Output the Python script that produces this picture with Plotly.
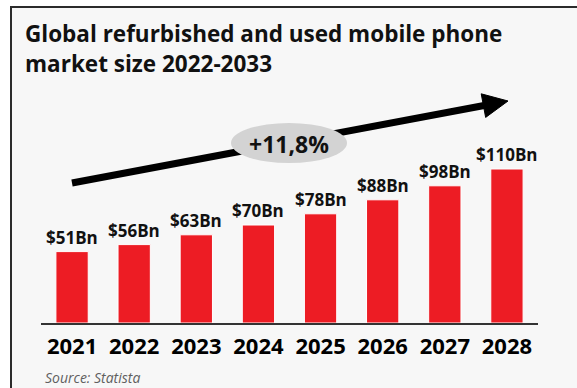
import math
import plotly.graph_objects as go

# ---- data -------------------------------------------------------------
years = ["2021", "2022", "2023", "2024", "2025", "2026", "2027", "2028"]
market_size_bn = [51, 56, 63, 70, 78, 88, 98, 110]
value_labels = [f"${v}Bn" for v in market_size_bn]
growth_label = "+11,8%"
title_lines = ["Global refurbished and used mobile phone", "market size 2022-2033"]
source_note = "Source: Statista"

# ---- canvas geometry (pixels) ------------------------------------------
W, H = 577, 388
L, R, T, B = 41, 39, 141, 65
plot_w = W - L - R
plot_h = H - T - B


def px(x):
    """pixel x -> paper x"""
    return (x - L) / plot_w


def py(y):
    """pixel y (from top) -> paper y"""
    return (H - B - y) / plot_h


FONT = "Open Sans"
RED = "#ed1c24"

fig = go.Figure()
fig.add_trace(
    go.Bar(
        x=years,
        y=market_size_bn,
        marker=dict(color=RED, line=dict(color="#ffffff", width=1)),
        hoverinfo="skip",
    )
)

# value labels above each bar (x given as category index)
for i, (v, lab) in enumerate(zip(market_size_bn, value_labels)):
    fig.add_annotation(
        x=i, y=v, xref="x", yref="y", text=lab, showarrow=False,
        yanchor="bottom", yshift=1,
        font=dict(family=FONT, size=17, color="#111111", weight="bold"),
    )

shapes = []
# framed background panel
shapes.append(dict(
    type="rect", xref="paper", yref="paper", layer="below",
    x0=px(11), x1=px(600), y0=py(420), y1=py(7),
    line=dict(color="#2b2b2b", width=2), fillcolor="#f7f7f7",
))

# growth arrow: shaft + head
tip = (508, 101)
start = (72, 183)
dx, dy = tip[0] - start[0], tip[1] - start[1]
n = math.hypot(dx, dy)
ux, uy = dx / n, dy / n
nx, ny = -uy, ux
head_len, head_half = 25, 12
bx, by = tip[0] - head_len * ux, tip[1] - head_len * uy
shapes.append(dict(
    type="line", xref="paper", yref="paper",
    x0=px(start[0]), y0=py(start[1]), x1=px(bx + 2 * ux), y1=py(by + 2 * uy),
    line=dict(color="#000000", width=7),
))
p1 = (bx + head_half * nx, by + head_half * ny)
p2 = (bx - head_half * nx, by - head_half * ny)
shapes.append(dict(
    type="path", xref="paper", yref="paper",
    path=f"M {px(tip[0])},{py(tip[1])} L {px(p1[0])},{py(p1[1])} L {px(p2[0])},{py(p2[1])} Z",
    fillcolor="#000000", line=dict(color="#000000", width=1),
))

# grey badge behind the growth rate
shapes.append(dict(
    type="circle", xref="paper", yref="paper",
    x0=px(231), x1=px(347), y0=py(163), y1=py(123),
    fillcolor="#d3d3d3", line=dict(width=0),
))

fig.add_annotation(
    xref="paper", yref="paper", x=px(289), y=py(144), text=growth_label,
    showarrow=False, xanchor="center", yanchor="middle",
    font=dict(family=FONT, size=23, color="#111111", weight="bold"),
)

# two-line heading
for i, line in enumerate(title_lines):
    fig.add_annotation(
        xref="paper", yref="paper", x=px(23), y=py(33 + 30 * i), text=line,
        showarrow=False, xanchor="left", yanchor="middle",
        font=dict(family=FONT, size=22.5, color="#111111", weight="bold"),
    )

fig.add_annotation(
    xref="paper", yref="paper", x=px(43), y=py(377), text=source_note,
    showarrow=False, xanchor="left", yanchor="middle",
    font=dict(family=FONT, size=14, color="#5f5f5f", style="italic"),
)

fig.update_layout(
    width=W, height=H,
    margin=dict(l=L, r=R, t=T, b=B, pad=0),
    paper_bgcolor="#ffffff",
    plot_bgcolor="rgba(0,0,0,0)",
    showlegend=False,
    bargap=0.48,
    shapes=shapes,
    xaxis=dict(
        type="category", range=[-0.5, len(years) - 0.5],
        showline=True, linecolor="#333333", linewidth=2,
        ticks="outside", ticklen=3, tickcolor="rgba(0,0,0,0)",
        tickfont=dict(family=FONT, size=22, color="#000000", weight="bold"),
        showgrid=False, zeroline=False, fixedrange=True,
    ),
    yaxis=dict(range=[0, 130], visible=False, fixedrange=True),
)

fig.write_html("out.html")
